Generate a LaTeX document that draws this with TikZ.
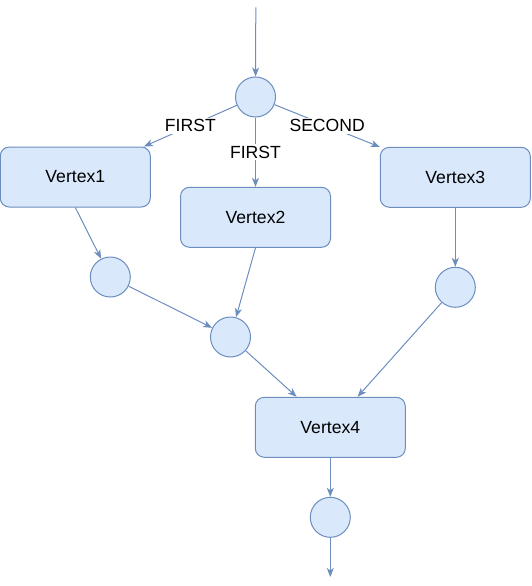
\documentclass[tikz,border=0pt]{standalone}
\usepackage{fontspec}
\setmainfont{Liberation Sans}
\usetikzlibrary{arrows.meta}
\definecolor{nfill}{HTML}{DAE8FC}
\definecolor{nline}{HTML}{6C8EBF}
\tikzset{
  vbox/.style={draw=nline, fill=nfill, line width=1pt, rounded corners=9pt,
    minimum width=150pt, minimum height=60pt, inner sep=0pt, font=\fontsize{17.6}{20}\selectfont},
  vcirc/.style={draw=nline, fill=nfill, line width=1pt, circle, minimum size=40pt, inner sep=0pt},
  conn/.style={draw=nline, line width=1pt, -{Stealth[length=9pt,width=7pt,inset=2.5pt]}},
  lbl/.style={fill=white, inner sep=1.5pt, font=\fontsize{17.6}{20}\selectfont, text=black}
}
\begin{document}
\begin{tikzpicture}[x=1pt,y=1pt]
\useasboundingbox (0,0) rectangle (531,-586);
\node[vcirc] (ctop) at (255.5,-97) {};
\node[vbox] (v1) at (75.3,-177) {Vertex1};
\node[vbox] (v2) at (255.5,-217.3) {Vertex2};
\node[vbox] (v3) at (455.3,-177.3) {Vertex3};
\node[vcirc] (ca) at (110.3,-277) {};
\node[vcirc] (cb) at (230.5,-337) {};
\node[vcirc] (cc) at (455.3,-287.3) {};
\node[vbox] (v4) at (330.3,-427.3) {Vertex4};
\node[vcirc] (cd) at (330.3,-517.3) {};
\coordinate (start) at (255.8,-7.3);
\coordinate (finish) at (330.3,-577);
\draw[conn] (start) -- (ctop);
\draw[conn] (ctop) -- node[lbl] (l1) {FIRST} (v1);
\draw[conn] (ctop) -- node[lbl] (l2) {FIRST} (v2);
\draw[conn] (ctop) -- node[lbl] (l3) {SECOND} (v3);
\draw[conn] (v1.south) -- (ca);
\draw[conn] (ca) -- (cb);
\draw[conn] (v2.south) -- (cb);
\draw[conn] (v3) -- (cc);
\draw[conn] (cb) -- (v4);
\draw[conn] (cc) -- (v4);
\draw[conn] (v4) -- (cd);
\draw[conn] (cd) -- (finish);
\end{tikzpicture}
\end{document}
